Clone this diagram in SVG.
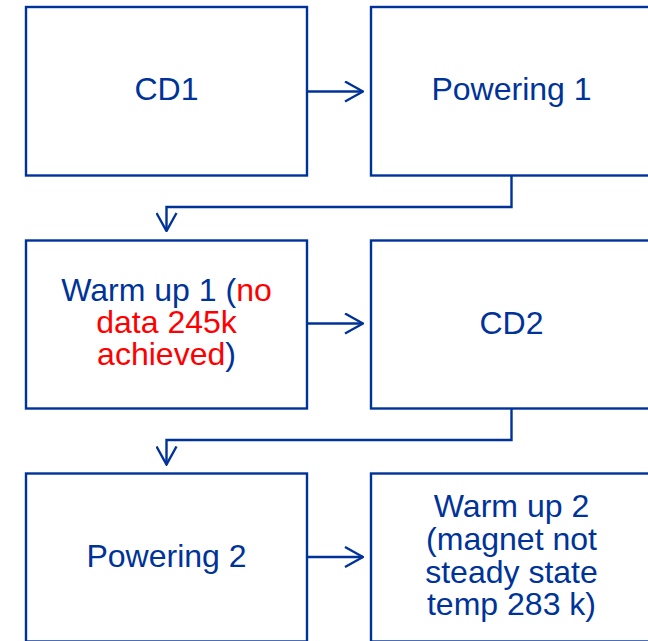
<svg xmlns="http://www.w3.org/2000/svg" width="648" height="641" viewBox="0 0 648 641">
<defs>
<style>
.box{fill:#ffffff;stroke:#003399;stroke-width:2.4}
.t{font-family:"Liberation Sans",Arial,sans-serif;font-size:30.5px;fill:#003399;text-anchor:middle}
.r{fill:#ff0000}
.conn{fill:none;stroke:#003399;stroke-width:2.4}
</style>
<marker id="arr" viewBox="0 0 20 22" refX="19" refY="11" markerWidth="20" markerHeight="22" markerUnits="userSpaceOnUse" orient="auto">
<path d="M1,1 L19,11 L1,21" fill="none" stroke="#003399" stroke-width="2.4"/>
</marker>
</defs>
<rect width="648" height="641" fill="#ffffff"/>
<g id="cd1">
<rect class="box" x="26" y="7" width="281" height="168.5"/>
<g transform="translate(166.5,0) scale(1.05,1)"><text class="t" x="0" y="100.5">CD1</text></g>
</g>
<g id="powering1">
<rect class="box" x="371" y="7" width="281" height="168.5"/>
<g transform="translate(511.5,0) scale(1.05,1)"><text class="t" x="0" y="100.5">Powering 1</text></g>
</g>
<g id="warmup1">
<rect class="box" x="26" y="240.5" width="281" height="168"/>
<g transform="translate(166.5,0) scale(1.05,1)">
<text class="t" x="0" y="301.5">Warm up 1 (<tspan class="r">no</tspan></text>
<text class="t r" x="0" y="333.5">data 245k</text>
<text class="t" x="0" y="365.5"><tspan class="r">achieved</tspan>)</text>
</g>
</g>
<g id="cd2">
<rect class="box" x="371" y="240.5" width="281" height="168"/>
<g transform="translate(511.5,0) scale(1.05,1)"><text class="t" x="0" y="334.5">CD2</text></g>
</g>
<g id="powering2">
<rect class="box" x="26" y="473.5" width="281" height="168"/>
<g transform="translate(166.5,0) scale(1.05,1)"><text class="t" x="0" y="567.5">Powering 2</text></g>
</g>
<g id="warmup2">
<rect class="box" x="371" y="473.5" width="281" height="168"/>
<g transform="translate(511.5,0) scale(1.05,1)">
<text class="t" x="0" y="517">Warm up 2</text>
<text class="t" x="0" y="550">(magnet not</text>
<text class="t" x="0" y="583">steady state</text>
<text class="t" x="0" y="615">temp 283 k)</text>
</g>
</g>
<g id="connectors">
<path class="conn" d="M307,91.5 H363" marker-end="url(#arr)"/>
<path class="conn" d="M511.5,175.5 V207 H166.5 V231" marker-end="url(#arr)"/>
<path class="conn" d="M307,323.5 H363" marker-end="url(#arr)"/>
<path class="conn" d="M511.5,408.5 V440 H166.5 V464.5" marker-end="url(#arr)"/>
<path class="conn" d="M307,557 H363" marker-end="url(#arr)"/>
</g>
</svg>
